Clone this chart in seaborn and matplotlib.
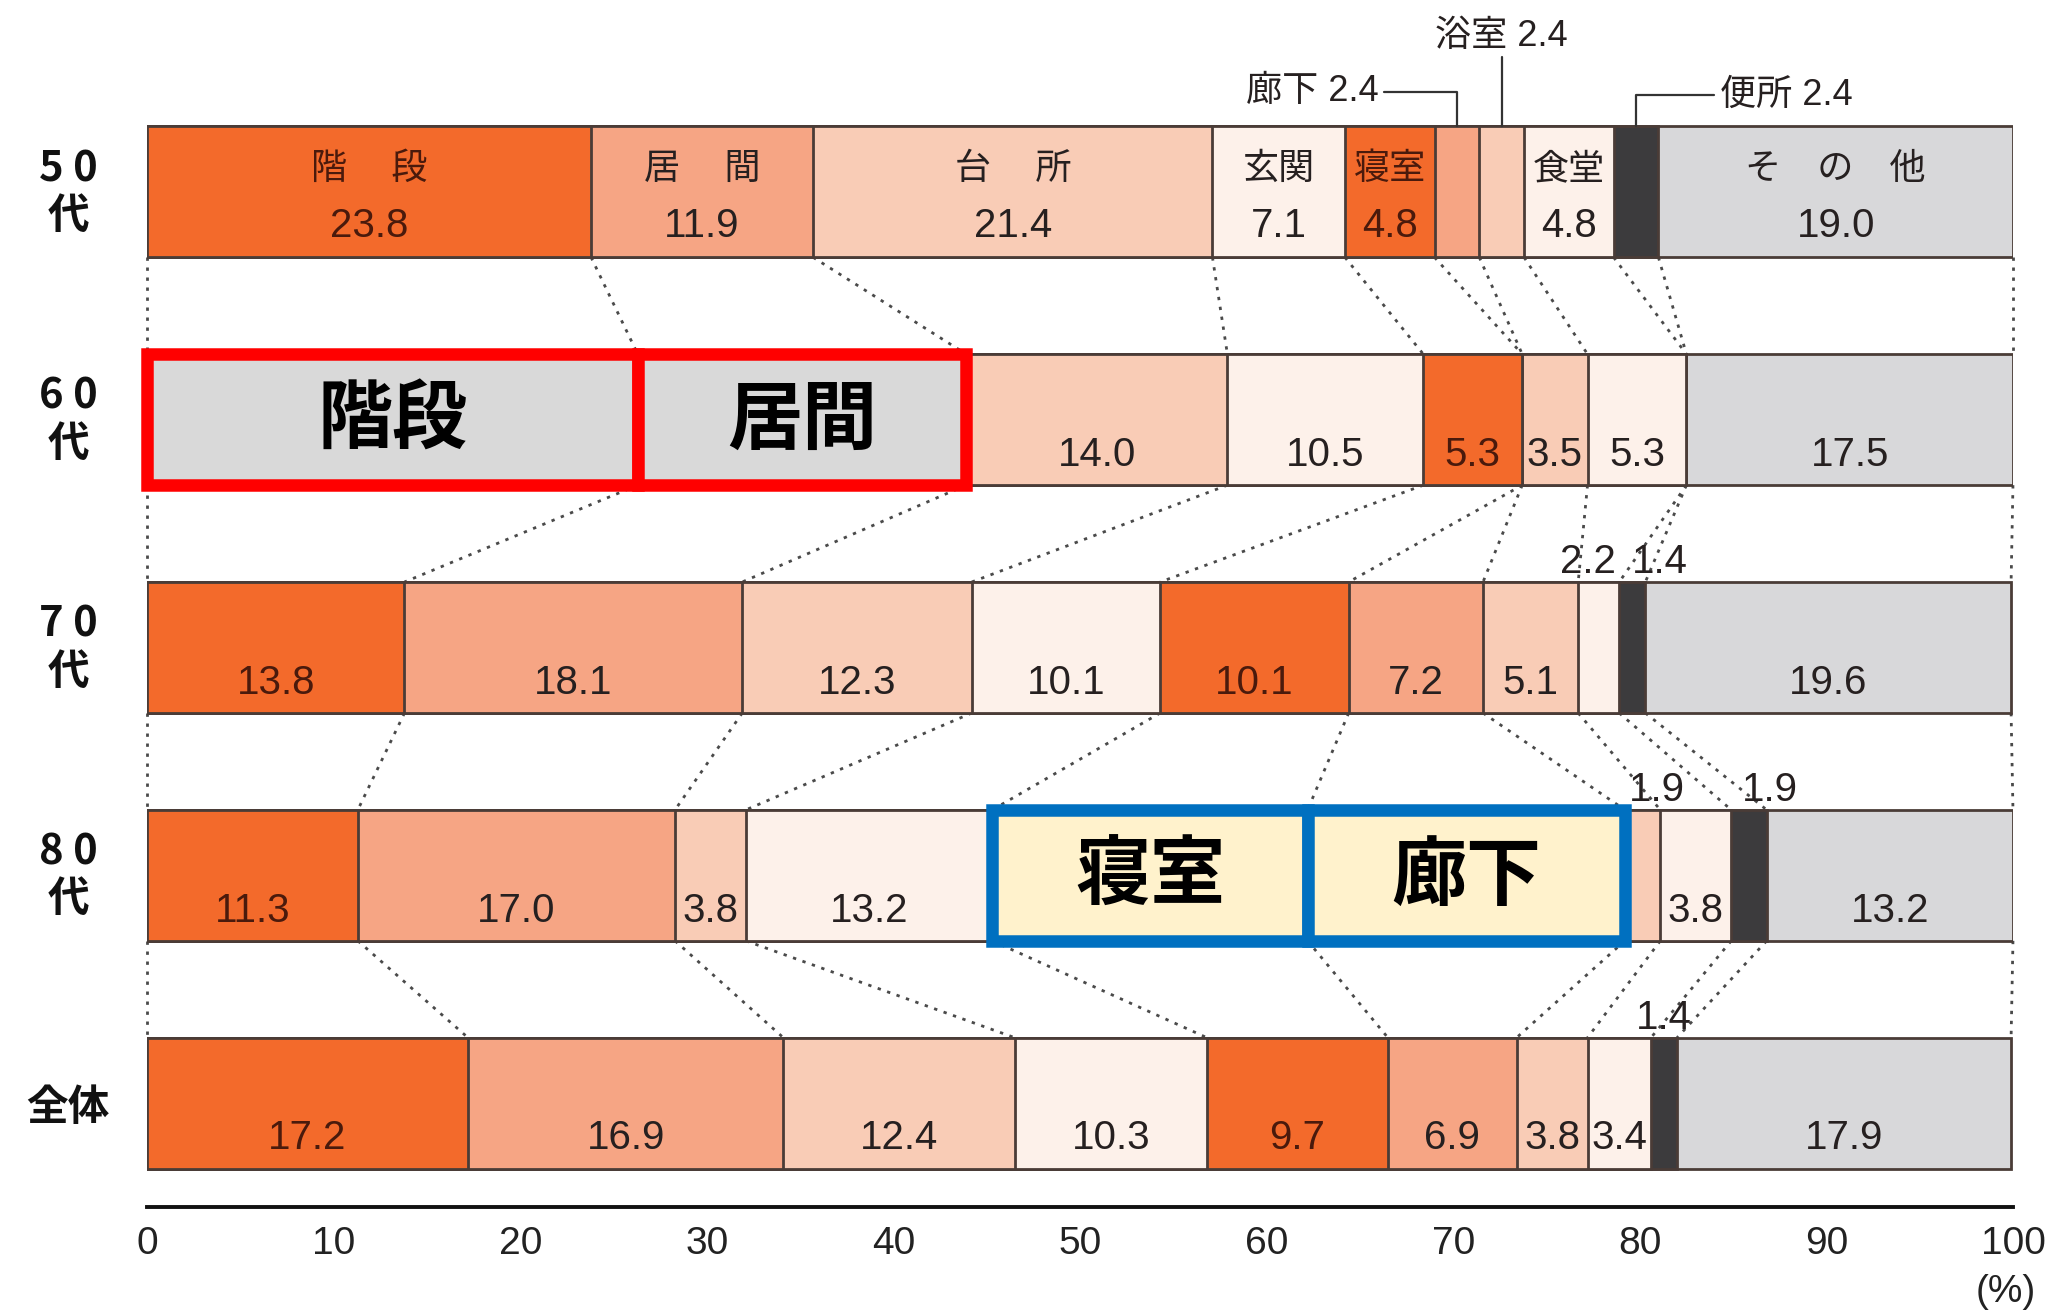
import numpy as np
import pandas as pd
import matplotlib
matplotlib.use("Agg")
import matplotlib.pyplot as plt
from matplotlib import font_manager
from matplotlib.patches import Rectangle
import seaborn as sns

# ---- data -------------------------------------------------------------
ages = ["50代", "60代", "70代", "80代", "全体"]
rooms = ["階段", "居間", "台所", "玄関", "寝室", "廊下", "浴室", "食堂", "便所", "その他"]

share_50s = [23.8, 11.9, 21.4, 7.1, 4.8, 2.4, 2.4, 4.8, 2.4, 19.0]
share_60s = [26.3, 17.6, 14.0, 10.5, 5.3, 0.0, 3.5, 5.3, 0.0, 17.5]
share_70s = [13.8, 18.1, 12.3, 10.1, 10.1, 7.2, 5.1, 2.2, 1.4, 19.6]
share_80s = [11.3, 17.0, 3.8, 13.2, 16.9, 17.0, 1.9, 3.8, 1.9, 13.2]
share_all = [17.2, 16.9, 12.4, 10.3, 9.7, 6.9, 3.8, 3.4, 1.4, 17.9]

row_label_lines = [["5 0", "代"], ["6 0", "代"], ["7 0", "代"], ["8 0", "代"], ["全体"]]
x_ticks = [0, 10, 20, 30, 40, 50, 60, 70, 80, 90, 100]

# in-bar room names on the first row
room_names_top = {"階段": "階\u3000 段", "居間": "居\u3000 間", "台所": "台\u3000 所",
                  "玄関": "玄関", "寝室": "寝室", "食堂": "食堂", "その他": "そ\u3000の\u3000他"}

# highlighted segments: (row, room)
highlight_red = [(1, "階段"), (1, "居間")]
highlight_blue = [(3, "寝室"), (3, "廊下")]

# ---- styling ----------------------------------------------------------
DARK_ORANGE = "#f36a2b"
SALMON = "#f6a584"
LIGHT_SALMON = "#f9ccb6"
CREAM = "#fdf1ea"
room_colors = {
    "階段": DARK_ORANGE, "居間": SALMON, "台所": LIGHT_SALMON, "玄関": CREAM,
    "寝室": DARK_ORANGE, "廊下": SALMON, "浴室": LIGHT_SALMON, "食堂": CREAM,
    "便所": "#3c3b3d", "その他": "#d8d8da",
}
EDGE = "#4a3c37"
BAR_H = 0.575

sns.set_style("white")
available = {f.name for f in font_manager.fontManager.ttflist}
if "Liberation Sans Narrow" in available:
    NUM_FAMILY = ["Liberation Sans Narrow", "Noto Sans CJK JP"]
elif "Liberation Sans" in available:
    NUM_FAMILY = ["Liberation Sans", "Noto Sans CJK JP"]
else:
    NUM_FAMILY = ["DejaVu Sans", "Noto Sans CJK JP"]
JP_FAMILY = ["Noto Sans CJK JP", "DejaVu Sans"]
plt.rcParams["font.family"] = JP_FAMILY

shares = np.array([share_50s, share_60s, share_70s, share_80s, share_all])
ends = shares.cumsum(axis=1)
starts = ends - shares

df = pd.DataFrame({
    "age": np.repeat(ages, len(rooms)),
    "room": rooms * len(ages),
    "share": shares.ravel(),
    "end": ends.ravel(),
})

fig = plt.figure(figsize=(20.53, 13.13), dpi=100)
ax = fig.add_axes([0.0716, 0.0807, 0.9089, 0.8964])

# stacked bars: draw cumulative lengths from the longest down so each
# shorter bar covers the start of the next one
for room in reversed(rooms):
    sub = df[df["room"] == room]
    sns.barplot(data=sub, x="end", y="age", order=ages, orient="h",
                color=room_colors[room], saturation=1, width=BAR_H,
                edgecolor=EDGE, linewidth=2.0, errorbar=None, ax=ax, zorder=2)

ax.set_xlim(0, 100)
ax.set_ylim(4.456, -0.71)
ax.set_yticks([])
ax.set_xlabel("")
ax.set_ylabel("")
for s in ["top", "left", "right"]:
    ax.spines[s].set_visible(False)
ax.spines["bottom"].set_linewidth(2.8)
ax.spines["bottom"].set_color("#111111")
ax.set_xticks(x_ticks)
ax.set_xticklabels([str(t) for t in x_ticks])
ax.tick_params(axis="x", direction="in", length=10, width=1.5, pad=14,
               labelsize=28, colors="#222222")
for lab in ax.get_xticklabels():
    lab.set_fontfamily(NUM_FAMILY)
ax.text(99.6, 4.83, "(%)", ha="center", va="center", fontsize=28,
        family=NUM_FAMILY, color="#222222", clip_on=False)

# dotted connectors between neighbouring rows
for i in range(len(ages) - 1):
    upper = np.concatenate([[0.0], ends[i]])
    lower = np.concatenate([[0.0], ends[i + 1]])
    for xu, xl in zip(upper, lower):
        ax.plot([xu, xl], [i + BAR_H / 2, i + 1 - BAR_H / 2], color="#4a4a4a",
                lw=2.0, linestyle=(0, (1.2, 2.4)), zorder=1, clip_on=False)

# row labels
label_x = -0.0423
for i, lines in enumerate(row_label_lines):
    if len(lines) == 2:
        ax.text(label_x, i - 0.10, lines[0], transform=ax.get_yaxis_transform(),
                ha="center", va="center", fontsize=30, fontweight="bold", color="#111111")
        ax.text(label_x, i + 0.105, lines[1], transform=ax.get_yaxis_transform(),
                ha="center", va="center", fontsize=30, fontweight="bold", color="#111111")
    else:
        ax.text(label_x, i + 0.02, lines[0], transform=ax.get_yaxis_transform(),
                ha="center", va="center", fontsize=30, fontweight="bold", color="#111111")

hidden = set(highlight_red) | set(highlight_blue)
leader_side = {"廊下": "left", "浴室": "up", "便所": "right"}
above_nudge = {(2, "食堂"): -0.6, (2, "便所"): 1.5, (3, "浴室"): 0.75, (3, "便所"): 1.1}
NUM_SIZE = 29


def text_color(room):
    return "#4a1a0c" if room_colors[room] == DARK_ORANGE else "#262020"


for i in range(len(ages)):
    bar_top = i - BAR_H / 2
    for j, room in enumerate(rooms):
        v = shares[i, j]
        if v == 0 or (i, room) in hidden:
            continue
        xc = starts[i, j] + v / 2
        label = f"{v:.1f}"
        if i == 0:
            if v < 3:
                side = leader_side[room]
                lbl = f"{room} {label}"
                if side == "left":
                    yl = -0.44
                    ax.text(xc - 4.2, yl, lbl, ha="right", va="center", fontsize=26,
                            family=NUM_FAMILY, color="#262020")
                    ax.plot([xc - 3.9, xc, xc], [yl, yl, bar_top], color="#333333",
                            lw=1.6, zorder=3)
                elif side == "right":
                    yl = -0.425
                    ax.text(xc + 4.5, yl, lbl, ha="left", va="center", fontsize=26,
                            family=NUM_FAMILY, color="#262020")
                    ax.plot([xc + 4.2, xc, xc], [yl, yl, bar_top], color="#333333",
                            lw=1.6, zorder=3)
                else:
                    ax.text(xc, -0.68, lbl, ha="center", va="center", fontsize=26,
                            family=NUM_FAMILY, color="#262020", clip_on=False)
                    ax.plot([xc, xc], [-0.59, bar_top], color="#333333", lw=1.6, zorder=3)
            else:
                ax.text(xc, i - 0.10, room_names_top[room], ha="center", va="center",
                        fontsize=26, family=JP_FAMILY, color=text_color(room), zorder=4)
                ax.text(xc, i + 0.15, label, ha="center", va="center",
                        fontsize=NUM_SIZE, family=NUM_FAMILY, color=text_color(room), zorder=4)
        else:
            if v < 3:
                ax.text(xc + above_nudge.get((i, room), 0.0), bar_top - 0.005, label,
                        ha="center", va="bottom", fontsize=NUM_SIZE, family=NUM_FAMILY,
                        color="#262020", zorder=4)
            else:
                ax.text(xc, i + 0.155, label, ha="center", va="center",
                        fontsize=NUM_SIZE, family=NUM_FAMILY, color=text_color(room), zorder=4)

# emphasis boxes laid over selected segments
for cells, edge, face in [(highlight_red, "#ff0000", "#d9d9d9"),
                          (highlight_blue, "#0070c0", "#fff2cc")]:
    for (i, room) in cells:
        j = rooms.index(room)
        x0, w = starts[i, j], shares[i, j]
        ax.add_patch(Rectangle((x0, i - BAR_H / 2), w, BAR_H, facecolor=face,
                               edgecolor=edge, linewidth=9, zorder=5, clip_on=False))
        ax.text(x0 + w / 2, i + 0.005, room, ha="center", va="center", fontsize=54,
                fontweight="bold", family=JP_FAMILY, color="#000000", zorder=6)

fig.savefig("out.png", dpi=100, facecolor="white")
